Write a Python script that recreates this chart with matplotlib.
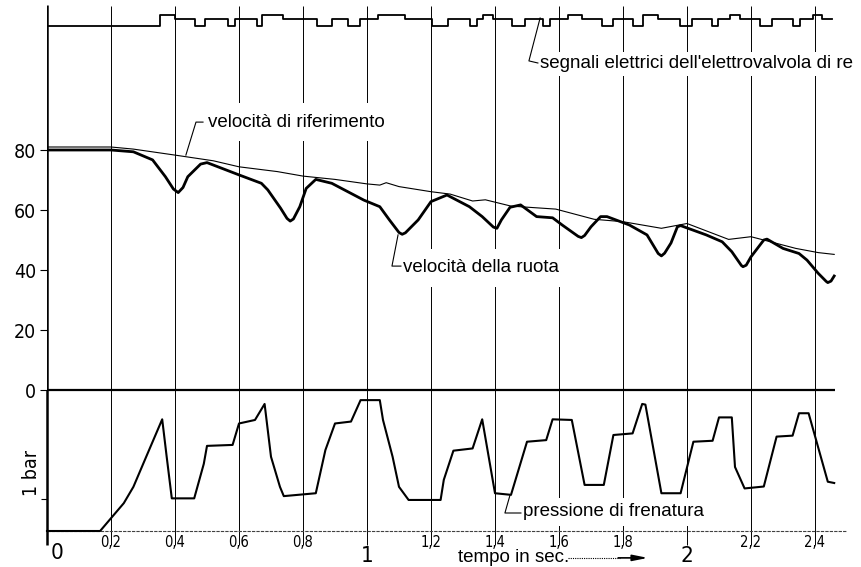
import matplotlib
matplotlib.use('Agg')
import matplotlib.pyplot as plt

plt.rcParams['font.family'] = ['Liberation Sans', 'DejaVu Sans']

# velocita' di riferimento (km/h)
t_ref = [0, 0.2, 0.27, 0.4, 0.52, 0.6, 0.72, 0.8, 0.9, 1.0, 1.04, 1.06, 1.1, 1.2,
         1.26, 1.33, 1.37, 1.45, 1.59, 1.71, 1.8, 1.92, 2.0, 2.13, 2.2, 2.34, 2.41, 2.46]
v_ref = [81, 81, 80.3, 78.3, 76.4, 74.4, 72.8, 71.3, 70.2, 68.7, 68.3, 69.1, 67.8, 66.1,
         65.3, 63.0, 63.4, 61.3, 60.3, 56.9, 56.1, 53.9, 55.5, 50.2, 51.1, 47.2, 45.8, 45.2]

# velocita' della ruota (km/h)
t_wheel = [0, 0.2, 0.27, 0.33, 0.37, 0.395, 0.41, 0.425, 0.44, 0.48, 0.5, 0.6, 0.67, 0.69,
           0.73, 0.75, 0.76, 0.77, 0.79, 0.81, 0.84, 0.89, 0.99, 1.04, 1.07, 1.1, 1.11,
           1.12, 1.16, 1.2, 1.25, 1.32, 1.36, 1.395, 1.406, 1.42, 1.447, 1.48, 1.53, 1.58,
           1.61, 1.66, 1.67, 1.68, 1.70, 1.73, 1.75, 1.82, 1.875, 1.91, 1.92, 1.93, 1.95,
           1.97, 1.98, 2.06, 2.11, 2.14, 2.17, 2.175, 2.185, 2.2, 2.24, 2.25, 2.3, 2.35,
           2.375, 2.41, 2.435, 2.44, 2.45, 2.46]
v_wheel = [80, 80, 79.4, 76.7, 71.1, 67.0, 65.8, 67.5, 71.1, 75.3, 75.8, 71.7, 68.9, 66.7,
           60.6, 57.2, 56.3, 57.0, 61.1, 67.2, 70.2, 68.9, 63.3, 61.1, 56.7, 52.5, 51.9,
           52.4, 56.7, 62.8, 65, 61.1, 57.8, 54.3, 53.9, 56.7, 60.9, 61.7, 57.8, 57.4,
           55.0, 51.2, 50.8, 51.5, 54.4, 57.8, 57.8, 55.0, 51.7, 45.5, 44.7, 45.6, 49.0,
           54.4, 54.8, 51.7, 49.4, 46.1, 41.5, 41.1, 41.6, 44.4, 50.0, 50.3, 47.2, 45.5,
           43.3, 38.9, 36.2, 35.8, 36.3, 38]

# pressione di frenatura (bar)
t_press = [0, 0.166, 0.2, 0.24, 0.27, 0.31, 0.36, 0.374, 0.39, 0.46, 0.49, 0.50, 0.58,
           0.60, 0.65, 0.68, 0.70, 0.728, 0.74, 0.84, 0.87, 0.90, 0.95, 0.98, 1.04, 1.05,
           1.08, 1.10, 1.13, 1.23, 1.24, 1.27, 1.33, 1.36, 1.40, 1.45, 1.50, 1.56, 1.58,
           1.64, 1.68, 1.74, 1.77, 1.83, 1.86, 1.87, 1.92, 1.98, 2.02, 2.08, 2.10, 2.14,
           2.15, 2.18, 2.24, 2.28, 2.33, 2.35, 2.38, 2.44, 2.46]
p_press = [0, 0, 0.4, 0.87, 1.38, 2.32, 3.49, 2.32, 1.02, 1.02, 2.1, 2.66, 2.69,
           3.36, 3.47, 3.97, 2.32, 1.38, 1.09, 1.18, 2.53, 3.36, 3.42, 4.09, 4.09, 3.47,
           2.32, 1.38, 0.97, 0.97, 1.6, 2.51, 2.58, 3.49, 1.18, 1.13, 2.79, 2.84, 3.49,
           3.47, 1.44, 1.44, 3.0, 3.05, 3.97, 3.95, 1.18, 1.18, 2.79, 2.82, 3.55, 3.55,
           2.0, 1.33, 1.39, 2.95, 2.98, 3.68, 3.68, 1.54, 1.50]

# segnali elettrici dell'elettrovalvola: istante di commutazione e stato (0 basso, 1 medio, 2 alto)
t_sig = [0, 0.353, 0.400, 0.4625, 0.494, 0.566, 0.5875, 0.656, 0.672, 0.7375, 0.844,
         0.891, 0.941, 0.978, 1.034, 1.119, 1.203, 1.253, 1.322, 1.344, 1.3625, 1.394,
         1.453, 1.494, 1.55, 1.572, 1.628, 1.672, 1.734, 1.769, 1.831, 1.8625, 1.909,
         1.978, 2.016, 2.078, 2.097, 2.134, 2.166, 2.228, 2.266, 2.331, 2.353, 2.394,
         2.422, 2.453]
s_sig = [0, 2, 1, 0, 1, 0, 1, 0, 2, 1, 0, 1, 0, 1, 2, 1, 0, 1, 0, 1, 2, 1, 0, 1, 0, 1,
         2, 1, 0, 1, 0, 2, 1, 0, 1, 0, 1, 2, 1, 0, 1, 0, 1, 2, 1, 1]

speed_ticks = [0, 20, 40, 60, 80]
grid_times = [0.2, 0.4, 0.6, 0.8, 1.0, 1.2, 1.4, 1.6, 1.8, 2.0, 2.2, 2.4]
minor_times = [0.2, 0.4, 0.6, 0.8, 1.2, 1.4, 1.6, 1.8, 2.2, 2.4]
minor_labels = ['0,2', '0,4', '0,6', '0,8', '1,2', '1,4', '1,6', '1,8', '2,2', '2,4']
major_times = [1, 2]
major_labels = ['1', '2']

sig_level = {0: 121.4, 1: 123.7, 2: 125.0}
num_font = dict(family='DejaVu Sans', fontstretch='condensed')

fig = plt.figure(figsize=(8.62, 5.67), dpi=100)
xmax = 815 / 320
ax_v = fig.add_axes([47 / 862, 177 / 567, 815 / 862, 390 / 567])
ax_p = fig.add_axes([47 / 862, 36 / 567, 815 / 862, 141 / 567])
for ax in (ax_v, ax_p):
    ax.set_xlim(0, xmax)
    for s in ax.spines.values():
        s.set_visible(False)
    ax.set_facecolor('none')
ax_v.set_ylim(0, 130)
ax_p.set_ylim(0, 141 / 32)

# griglia e assi
ax_v.vlines(grid_times, 0, 128, color='k', lw=0.7, zorder=1)
ax_p.vlines(grid_times, -0.44, 141 / 32, color='k', lw=0.7, zorder=1, clip_on=False)
ax_v.vlines(0, 0, 128.5, color='k', lw=1.8, zorder=3)
ax_p.vlines(0, -0.44, 141 / 32, color='k', lw=1.8, zorder=3, clip_on=False)
ax_v.hlines(0, 0, 2.4625, color='k', lw=1.6, zorder=3, clip_on=False)
ax_p.hlines(0, 0, 2.5, color='0.25', lw=0.8, ls=(0, (3, 1)), zorder=1, clip_on=False)

# curve
ax_v.plot(t_ref, v_ref, color='k', lw=0.8, zorder=3)
ax_v.plot(t_wheel, v_wheel, color='k', lw=2.0, zorder=3, solid_joinstyle='round')
ax_p.plot(t_press, p_press, color='k', lw=1.5, zorder=3, clip_on=False)
ax_v.step(t_sig, [sig_level[s] for s in s_sig], where='post', color='k', lw=1.3, zorder=3)

# assi: tacche
ax_v.set_yticks(speed_ticks)
ax_v.set_yticklabels([str(v) for v in speed_ticks], fontsize=14, **num_font)
ax_v.tick_params(axis='y', direction='out', length=5, width=0.8, pad=3)
ax_v.set_xticks([])

ax_p.set_yticks([1])
ax_p.set_yticklabels([''])
ax_p.tick_params(axis='y', direction='out', length=4, width=0.8)
ax_p.set_xticks(major_times)
ax_p.set_xticklabels(major_labels, fontsize=16, **num_font)
ax_p.set_xticks(minor_times, minor=True)
ax_p.set_xticklabels(minor_labels, minor=True, fontsize=10.5, **num_font)
ax_p.tick_params(axis='x', which='major', length=0, pad=11)
ax_p.tick_params(axis='x', which='minor', length=0, pad=3)
ax_p.text(0.012, -0.36, '0', ha='left', va='top', fontsize=16, clip_on=False, **num_font)
ax_p.text(-0.047, 1.8, '1 bar', rotation=90, ha='center', va='center', fontsize=14,
          clip_on=False, **num_font)

# didascalie
box = dict(boxstyle='square,pad=0.55', fc='white', ec='none')
ax_v.text(0.503, 89.3, 'velocità di riferimento', fontsize=13.5, va='center', ha='left',
          bbox=box, zorder=2)
ax_v.plot([0.4875, 0.4656, 0.434], [89.3, 89.3, 78.3], color='k', lw=0.8, zorder=4)
ax_v.text(1.1125, 40.7, 'velocità della ruota', fontsize=13.5, va='center', ha='left',
          bbox=box, zorder=2)
ax_v.plot([1.097, 1.078, 1.106], [51.7, 41.3, 41.3], color='k', lw=0.8, zorder=4)
ax_v.text(1.541, 108.7, "segnali elettrici dell'elettrovalvola di re", fontsize=13.5,
          va='center', ha='left', bbox=dict(boxstyle='square,pad=0.2', fc='white', ec='none'),
          zorder=2)
ax_v.plot([1.541, 1.506, 1.534], [124, 109.7, 109], color='k', lw=0.8, zorder=4)
ax_p.text(1.4875, 0.6, 'pressione di frenatura', fontsize=13.5, va='center', ha='left',
          bbox=dict(boxstyle='square,pad=0.3', fc='white', ec='none'), zorder=2)
ax_p.plot([1.447, 1.431, 1.481], [1.125, 0.5625, 0.5625], color='k', lw=0.8, zorder=4)

ax_p.text(1.284, -0.84, 'tempo in sec.', fontsize=13.5, va='center', ha='left', clip_on=False)
ax_p.plot([1.628, 1.79], [-0.84, -0.84], color='k', lw=0.8, ls=(0, (1, 1)), clip_on=False)
ax_p.annotate('', xy=(1.878, -0.84), xytext=(1.785, -0.84), annotation_clip=False,
              arrowprops=dict(arrowstyle='-|>,head_length=0.9,head_width=0.18', lw=1.2,
                              color='k', shrinkA=0, shrinkB=0))

fig.savefig('out.png', dpi=100)
